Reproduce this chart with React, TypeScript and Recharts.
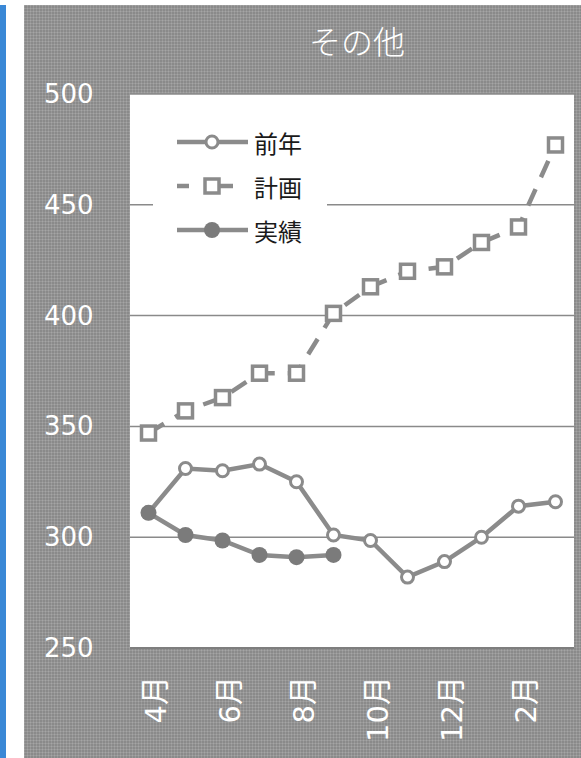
import { LineChart, Line, XAxis, YAxis, CartesianGrid, Legend } from 'recharts'

// monthly figures, fiscal year April → March
const MONTHS = ['4月', '5月', '6月', '7月', '8月', '9月', '10月', '11月', '12月', '1月', '2月', '3月']
const PREV_YEAR = [311, 331, 330, 333, 325, 301, 298.5, 282, 289, 300, 314, 316]
const PLAN = [347, 357, 363, 374, 374, 401, 413, 420, 422, 433, 440, 477]
const ACTUAL = [311, 301, 298.5, 292, 291, 292, null, null, null, null, null, null]
const Y_TICKS = [250, 300, 350, 400, 450, 500]
const LEGEND_ORDER = ['prev', 'plan', 'actual']

const rows = MONTHS.map((month, i) => ({
  month,
  prev: PREV_YEAR[i],
  plan: PLAN[i],
  actual: ACTUAL[i],
}))

const LINE = '#8b8b8b'
const DOT_FILL = '#7b7b7b'
const PANEL = '#8a8a8a'
const NUM_FONT = '"DejaVu Sans", "Noto Sans CJK JP", sans-serif'
const JP_FONT = '"Noto Sans CJK JP", sans-serif'

function SquareDot(props: any) {
  const { cx, cy, index } = props
  if (cx == null || cy == null) return <g key={`sq-${index}`} />
  return (
    <rect key={`sq-${index}`} x={cx - 7} y={cy - 7} width={14} height={14} fill="#fff" stroke={LINE} strokeWidth={3.5} />
  )
}

function MonthTick({ x, y, payload }: any) {
  const tx = x + 7
  const ty = y + 28
  return (
    <text
      x={tx}
      y={ty}
      transform={`rotate(-90, ${tx}, ${ty})`}
      textAnchor="end"
      dominantBaseline="central"
      fill="#fff"
      fontSize={29}
      fontFamily={NUM_FONT}
    >
      {payload.value}
    </text>
  )
}

function ValueTick({ y, payload }: any) {
  return (
    <text x={20} y={y + 9} textAnchor="start" fill="#fff" fontSize={26} fontFamily={NUM_FONT}>
      {payload.value}
    </text>
  )
}

function LegendBox({ payload }: any) {
  const items = [...(payload ?? [])].sort(
    (a: any, b: any) => LEGEND_ORDER.indexOf(a.dataKey) - LEGEND_ORDER.indexOf(b.dataKey),
  )
  return (
    <svg width={174} height={134} style={{ display: 'block' }}>
      {items.map((p: any, i: number) => {
        const y = 22 + i * 44
        let sample
        if (p.dataKey === 'plan') {
          sample = (
            <g>
              <line x1={24} y1={y} x2={36} y2={y} stroke={LINE} strokeWidth={4.5} />
              <line x1={66} y1={y} x2={80} y2={y} stroke={LINE} strokeWidth={4.5} />
              <rect x={52} y={y - 7} width={14} height={14} fill="#fff" stroke={LINE} strokeWidth={3.5} />
            </g>
          )
        } else if (p.dataKey === 'actual') {
          sample = (
            <g>
              <line x1={24} y1={y} x2={95} y2={y} stroke={LINE} strokeWidth={4.5} />
              <circle cx={59} cy={y} r={8} fill={DOT_FILL} />
            </g>
          )
        } else {
          sample = (
            <g>
              <line x1={24} y1={y} x2={95} y2={y} stroke={LINE} strokeWidth={4.5} />
              <circle cx={59} cy={y} r={6} fill="#fff" stroke={LINE} strokeWidth={3} />
            </g>
          )
        }
        return (
          <g key={p.value}>
            {sample}
            <text x={101} y={y} dominantBaseline="central" fontSize={24} fill="#1a1a1a" fontFamily={JP_FONT}>
              {p.value}
            </text>
          </g>
        )
      })}
    </svg>
  )
}

export default function App() {
  return (
    <div style={{ position: 'absolute', left: 0, top: 0, width: 581, height: 758, background: '#fff' }}>
      {/* blue edge strip */}
      <div style={{ position: 'absolute', left: 0, top: 5, width: 6, height: 753, background: '#3a88d6' }} />
      <div
        style={{
          position: 'absolute',
          left: 24,
          top: 5,
          width: 557,
          height: 753,
          backgroundColor: PANEL,
          backgroundImage:
            'linear-gradient(rgba(255,255,255,0.12) 1px, transparent 1px), linear-gradient(90deg, rgba(255,255,255,0.12) 1px, transparent 1px)',
          backgroundSize: '3px 3px',
        }}
      >
        <div
          style={{
            position: 'absolute',
            left: 233,
            top: 19,
            width: 200,
            textAlign: 'center',
            color: '#fff',
            fontSize: 32,
            lineHeight: '32px',
            fontWeight: 300,
            fontFamily: JP_FONT,
          }}
        >
          その他
        </div>
        <LineChart width={557} height={753} data={rows} margin={{ top: 89, right: 7, left: 0, bottom: 0 }}>
          <CartesianGrid vertical={false} stroke="#8a8a8a" strokeWidth={1.5} fill="#fff" fillOpacity={1} />
          <XAxis
            dataKey="month"
            interval={1}
            height={110}
            padding={{ left: 18.5, right: 18.5 }}
            tickSize={0}
            tickMargin={0}
            tickLine={false}
            axisLine={{ stroke: '#7e7e7e', strokeWidth: 2 }}
            tick={<MonthTick />}
          />
          <YAxis
            domain={[250, 500]}
            ticks={Y_TICKS}
            width={106}
            axisLine={false}
            tickLine={false}
            tick={<ValueTick />}
          />
          <Legend
            layout="vertical"
            align="center"
            verticalAlign="middle"
            content={<LegendBox />}
            wrapperStyle={{ position: 'absolute', left: 129, top: 115, width: 174, height: 134, background: '#fff' }}
          />
          <Line
            dataKey="prev"
            name="前年"
            stroke={LINE}
            strokeWidth={4.5}
            dot={{ r: 6, fill: '#fff', stroke: LINE, strokeWidth: 3 }}
            isAnimationActive={false}
          />
          <Line
            dataKey="plan"
            name="計画"
            stroke={LINE}
            strokeWidth={4.5}
            strokeDasharray="18 13"
            dot={SquareDot}
            isAnimationActive={false}
          />
          <Line
            dataKey="actual"
            name="実績"
            stroke={LINE}
            strokeWidth={4.5}
            dot={{ r: 8, fill: DOT_FILL, stroke: DOT_FILL, strokeWidth: 0 }}
            connectNulls={false}
            isAnimationActive={false}
          />
        </LineChart>
      </div>
    </div>
  )
}
